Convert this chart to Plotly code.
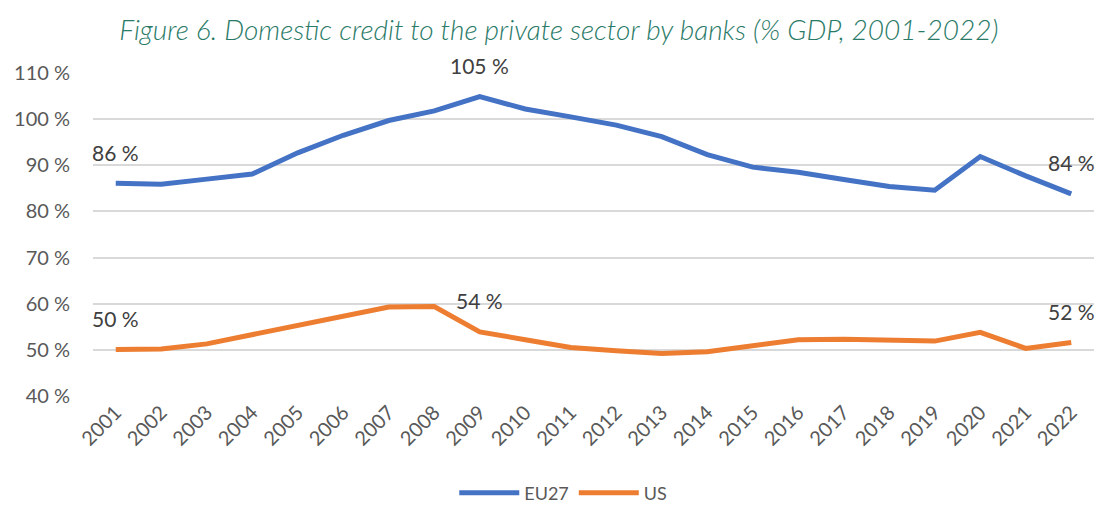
import plotly.graph_objects as go

years = [str(y) for y in range(2001, 2023)]
eu27 = [86.1, 85.9, 87.0, 88.1, 92.7, 96.5, 99.7, 101.8, 104.9, 102.2, 100.5, 98.7,
        96.2, 92.3, 89.6, 88.5, 86.9, 85.4, 84.6, 91.9, 87.7, 83.8]
us = [50.1, 50.2, 51.3, 53.3, 55.2, 57.1, 59.3, 59.4, 53.9, 52.2, 50.5, 49.8,
      49.2, 49.6, 51.0, 52.2, 52.3, 52.0, 51.9, 53.8, 50.3, 51.6]
label_idx = [0, 8, 21]

FONT = "Lato"
GRAY = "#595959"

fig = go.Figure()
fig.add_trace(go.Scatter(x=years, y=eu27, mode="lines", name="EU27",
                         line=dict(color="#4472C4", width=5)))
fig.add_trace(go.Scatter(x=years, y=us, mode="lines", name="US",
                         line=dict(color="#ED7D31", width=5)))

annotations = []
for series in (eu27, us):
    for i in label_idx:
        annotations.append(dict(x=i, y=series[i], xref="x", yref="y",
                                text=f"{round(series[i])} %",
                                showarrow=False, yshift=31,
                                font=dict(family=FONT, size=21, color="#404040")))

fig.update_layout(
    width=1098, height=506,
    margin=dict(l=93, r=4, t=73, b=110),
    paper_bgcolor="white", plot_bgcolor="white",
    title=dict(text="Figure 6. Domestic credit to the private sector by banks (% GDP, 2001-2022)",
               x=0.509, xref="container", xanchor="center",
               y=1 - 30 / 506, yref="container", yanchor="middle",
               font=dict(family=FONT, size=28, color="#2A7A68", style="italic", weight=300)),
    showlegend=True,
    legend=dict(orientation="h", xref="container", yref="container",
                x=0.513, xanchor="center", y=1 - 493 / 506, yanchor="middle",
                font=dict(family=FONT, size=18, color=GRAY),
                itemwidth=60, traceorder="normal"),
    font=dict(family=FONT, color=GRAY),
    annotations=annotations,
)
fig.update_xaxes(type="category", range=[-0.5, 21.5], tickangle=-45,
                 tickfont=dict(family=FONT, size=20, color=GRAY),
                 showgrid=False, showline=False, ticks="")
fig.update_yaxes(range=[40, 110], dtick=10, ticksuffix=" %",
                 tickfont=dict(family=FONT, size=20, color=GRAY),
                 showgrid=True, gridcolor="#D9D9D9", gridwidth=1.5,
                 zeroline=False, showline=False, ticklabelstandoff=22)

fig.write_html("out.html")
